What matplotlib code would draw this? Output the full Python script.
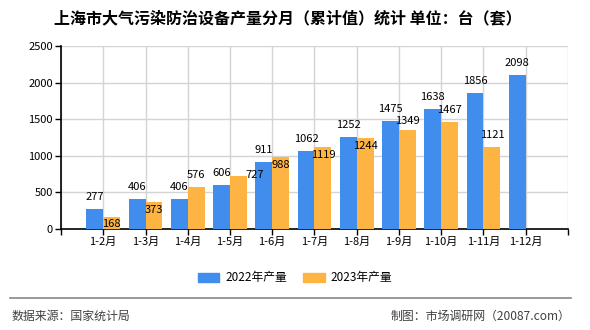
import numpy as np
import matplotlib
matplotlib.use("Agg")
import matplotlib.pyplot as plt
from matplotlib.patches import Patch
from matplotlib.lines import Line2D


# ---------------------------------------------------------
#  Data
# ---------------------------------------------------------

MONTHS = ["1-2月", "1-3月", "1-4月", "1-5月", "1-6月", "1-7月",
          "1-8月", "1-9月", "1-10月", "1-11月", "1-12月"]

OUTPUT_2022 = [277, 406, 406, 606, 911, 1062, 1252, 1475, 1638, 1856, 2098]
OUTPUT_2023 = [168, 373, 576, 727, 988, 1119, 1244, 1349, 1467, 1121, np.nan]

SERIES_NAMES = ["2022年产量", "2023年产量"]

TITLE = "上海市大气污染防治设备产量分月（累计值）统计 单位：台（套）"
SOURCE_TEXT = "数据来源：国家统计局"
MAKER_TEXT = "制图：市场调研网（20087.com）"

# label nudges for the 2023 series (pixels, dx / dy from the bar top)
LABEL_NUDGE_2023 = [(0, -7), (0, -8), (0, 12), (16, 1), (0, -8),
                    (0, -8), (0, -8), (0, 9), (0, 12), (0, 12), (0, 12)]


# ---------------------------------------------------------
#  Styling
# ---------------------------------------------------------

BLUE = "#418ded"
ORANGE = "#fdb443"
GRID = "#d4d4d4"
FOOT = "#404040"

plt.rcParams["font.family"] = ["Noto Sans CJK SC", "DejaVu Sans"]


def add_labels(ax, xs, values, nudges=None):
    """Writes the value above (or inside) each bar."""
    for i, (x, v) in enumerate(zip(xs, values)):
        if np.isnan(v):
            continue
        dx, dy = (0, 12) if nudges is None else nudges[i]
        ax.annotate(f"{int(v)}", xy=(x, v), xytext=(dx, dy),
                    textcoords="offset pixels", ha="center", va="center",
                    fontsize=8, color="black")


def plot_chart() -> None:
    fig = plt.figure(figsize=(5.9, 3.3), dpi=100)
    ax = fig.add_axes([0.1034, 0.3061, 0.8593, 0.5545])

    x = np.arange(len(MONTHS))
    width = 0.4

    ax.bar(x - width / 2, OUTPUT_2022, width=width, color=BLUE, zorder=3)
    ax.bar(x + width / 2, OUTPUT_2023, width=width, color=ORANGE, zorder=3)

    add_labels(ax, x - width / 2, OUTPUT_2022)
    add_labels(ax, x + width / 2, OUTPUT_2023, LABEL_NUDGE_2023)

    ax.set_xlim(-1, len(MONTHS))
    ax.set_ylim(0, 2500)
    ax.set_yticks(range(0, 2501, 500))

    ax.set_xticks(np.arange(-1, len(MONTHS) + 1))
    ax.set_xticklabels([""] + MONTHS + [""])

    ax.grid(True, color=GRID, linewidth=1, zorder=0)
    ax.tick_params(axis="both", labelsize=8, length=4, width=1,
                   colors="black", pad=2)

    for side in ("top", "right"):
        ax.spines[side].set_visible(False)
    for side in ("left", "bottom"):
        ax.spines[side].set_color("black")
        ax.spines[side].set_linewidth(1.2)

    fig.text(0.488, 1 - 18 / 330, TITLE, ha="center", va="center",
             fontsize=11.5, fontweight="bold")

    handles = [Patch(color=BLUE), Patch(color=ORANGE)]
    fig.legend(handles, SERIES_NAMES, loc="center", ncol=2,
               bbox_to_anchor=(0.5, 1 - 278 / 330), frameon=False,
               fontsize=8.5, handlelength=1.8, handleheight=0.85,
               handletextpad=0.5, columnspacing=1.4)

    fig.add_artist(Line2D([10 / 590, 571 / 590], [1 - 298 / 330] * 2,
                          color="#888888", linewidth=1.2))
    fig.text(12 / 590, 1 - 316 / 330, SOURCE_TEXT, ha="left", va="center",
             fontsize=8.6, color=FOOT)
    fig.text(570 / 590, 1 - 316 / 330, MAKER_TEXT, ha="right", va="center",
             fontsize=8.6, color=FOOT)

    fig.savefig("out.png", dpi=100)


def main() -> None:
    plot_chart()


if __name__ == "__main__":
    main()
